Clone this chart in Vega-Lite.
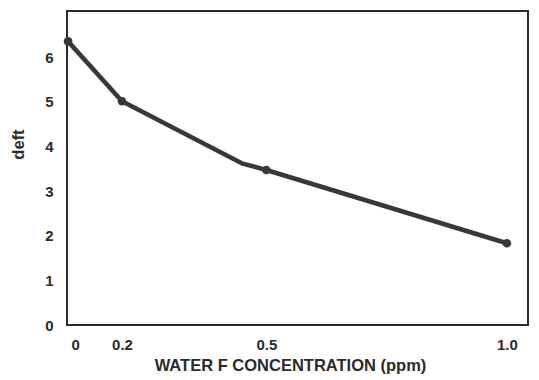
{
  "$schema": "https://vega.github.io/schema/vega-lite/v6.json",
  "width": 461,
  "height": 314,
  "autosize": {"type": "none"},
  "padding": {"left": 67, "top": 11, "right": 11, "bottom": 55},
  "background": "white",
  "config": {
    "view": {"stroke": "#2b2b2b", "strokeWidth": 2},
    "font": "Liberation Sans",
    "axis": {
      "grid": false,
      "domain": false,
      "ticks": false,
      "labelFont": "Liberation Sans",
      "labelFontWeight": "bold",
      "labelFontSize": 15,
      "labelColor": "#2b2b2b",
      "titleFont": "Liberation Sans",
      "titleFontWeight": "bold",
      "titleFontSize": 16.5,
      "titleColor": "#2b2b2b"
    }
  },
  "data": {
    "values": [
      {"conc": 0, "deft": 6.35, "marker": true},
      {"conc": 0.2, "deft": 5.01, "marker": true},
      {"conc": 0.449, "deft": 3.62, "marker": false},
      {"conc": 0.5, "deft": 3.47, "marker": true},
      {"conc": 1.0, "deft": 1.83, "marker": true}
    ]
  },
  "encoding": {
    "x": {
      "field": "conc",
      "type": "quantitative",
      "scale": {"domain": [-0.004, 0.2, 1.044], "range": [0, 55, 461], "nice": false, "zero": false},
      "axis": {
        "values": [0, 0.2, 0.5, 1.0],
        "labelExpr": "datum.value == 0 ? '0' : datum.value == 1 ? '1.0' : format(datum.value, '.1f')",
        "labelPadding": 12,
        "labelOffset": {"expr": "datum.value == 0 ? 7 : 0"},
        "title": "WATER F CONCENTRATION (ppm)",
        "titlePadding": 5,
        "titleX": 223
      }
    },
    "y": {
      "field": "deft",
      "type": "quantitative",
      "scale": {"domain": [0, 7.03], "nice": false},
      "axis": {
        "values": [0, 1, 2, 3, 4, 5, 6],
        "labelPadding": 14,
        "title": "deft",
        "titlePadding": 18,
        "titleY": 133
      }
    }
  },
  "layer": [
    {"mark": {"type": "line", "color": "#383838", "strokeWidth": 4.5, "strokeJoin": "round"}},
    {
      "transform": [{"filter": "datum.marker"}],
      "mark": {"type": "point", "filled": true, "color": "#383838", "size": 75, "opacity": 1}
    }
  ]
}
